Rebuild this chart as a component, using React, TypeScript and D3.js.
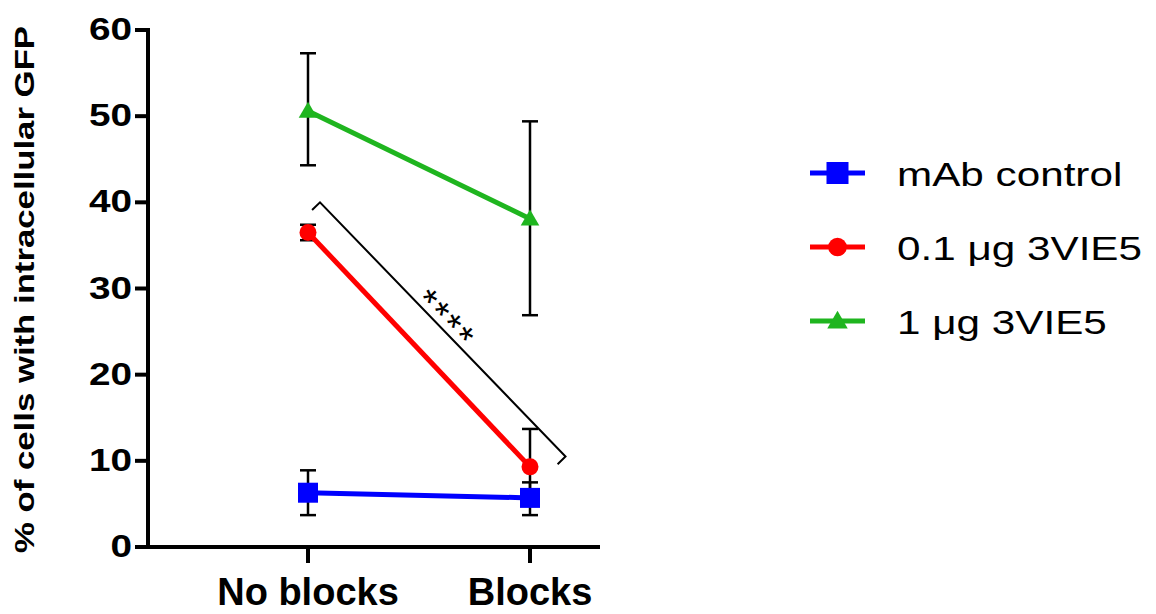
import React from "react";
import * as d3 from "d3";

const categories = ["No blocks", "Blocks"];
const seriesNames = ["mAb control", "0.1 \u03bcg 3VIE5", "1 \u03bcg 3VIE5"];
const seriesColors = ["#0000ff", "#ff0000", "#1fb51f"];
const seriesShapes = ["square", "circle", "triangle"];
const meanMab = [6.3, 5.7];
const lowMab = [3.7, 3.7];
const highMab = [8.9, 7.5];
const mean01 = [36.5, 9.3];
const low01 = [35.6, 4.9];
const high01 = [37.4, 13.7];
const mean1 = [50.6, 38.1];
const low1 = [44.3, 26.9];
const high1 = [57.3, 49.4];
const yTicks = [0, 10, 20, 30, 40, 50, 60];
const yTitle = "% of cells with intracellular GFP";
const sigLabel = "****";
const bracketStart = { x: 0.054, y: 40 };
const bracketEnd = { x: 1.16, y: 10.5 };

const W = 1156;
const H = 614;

export default function App() {
  const y = d3.scaleLinear().domain([0, 60]).range([547, 30]);
  const x = d3.scaleLinear().domain([0, 1]).range([308, 530]);
  const axisX = 148;
  const axisRight = 600;

  const series = [
    { mean: meanMab, low: lowMab, high: highMab },
    { mean: mean01, low: low01, high: high01 },
    { mean: mean1, low: low1, high: high1 },
  ];

  const line = d3
    .line<number>()
    .x((_, i) => x(i))
    .y((d) => y(d));

  const marker = (shape: string, cx: number, cy: number, color: string, s = 1) => {
    if (shape === "square") {
      const h = 10 * s;
      return <rect x={cx - h} y={cy - h} width={2 * h} height={2 * h} fill={color} />;
    }
    if (shape === "circle") {
      return <circle cx={cx} cy={cy} r={8.5 * s} fill={color} />;
    }
    const size = 150 * s * s;
    const p = d3.symbol().type(d3.symbolTriangle).size(size)();
    return <path d={p || ""} transform={`translate(${cx},${cy + 1.5 * s})`} fill={color} />;
  };

  const bx1 = x(bracketStart.x);
  const by1 = y(bracketStart.y);
  const bx2 = x(bracketEnd.x);
  const by2 = y(bracketEnd.y);
  const ang = Math.atan2(by2 - by1, bx2 - bx1);
  const angDeg = (ang * 180) / Math.PI;
  // perpendicular pointing toward the data (down-left)
  const px = -Math.sin(ang);
  const py = Math.cos(ang);
  const tick = 11;
  const t = 0.485;
  const midX = bx1 + (bx2 - bx1) * t - px * 17;
  const midY = by1 + (by2 - by1) * t - py * 17;

  return (
    <svg width={W} height={H} style={{ position: "absolute", left: 0, top: 0, background: "#fff" }}
      fontFamily="'Liberation Sans', Arial, sans-serif">
      {/* axes */}
      <line x1={axisX} x2={axisX} y1={y(60) - 2} y2={y(0) + 2} stroke="#000" strokeWidth={4} />
      <line x1={axisX - 2} x2={axisRight} y1={y(0)} y2={y(0)} stroke="#000" strokeWidth={4} />
      {yTicks.map((tv) => (
        <g key={tv}>
          <line x1={axisX - 13} x2={axisX} y1={y(tv)} y2={y(tv)} stroke="#000" strokeWidth={4} />
          <text
            transform={`translate(${axisX - 16},${y(tv) + 10}) scale(1.25,1)`}
            textAnchor="end"
            fontSize={31}
            fontWeight="bold"
          >
            {tv}
          </text>
        </g>
      ))}
      {categories.map((c, i) => (
        <g key={c}>
          <line x1={x(i)} x2={x(i)} y1={y(0)} y2={y(0) + 16} stroke="#000" strokeWidth={4} />
          <text x={x(i)} y={605} textAnchor="middle" fontSize={38} fontWeight="bold">
            {c}
          </text>
        </g>
      ))}
      <text
        transform={`translate(34,${(y(0) + y(60)) / 2 + 1}) rotate(-90) scale(1.22,1)`}
        textAnchor="middle"
        fontSize={28.5}
        fontWeight="bold"
      >
        {yTitle}
      </text>

      {/* error bars */}
      {series.map((s, si) =>
        s.mean.map((m, i) => (
          <g key={`e${si}-${i}`} stroke="#000" strokeWidth={2.5}>
            <line x1={x(i)} x2={x(i)} y1={y(s.low[i])} y2={y(s.high[i])} />
            <line x1={x(i) - 8} x2={x(i) + 8} y1={y(s.low[i])} y2={y(s.low[i])} />
            <line x1={x(i) - 8} x2={x(i) + 8} y1={y(s.high[i])} y2={y(s.high[i])} />
          </g>
        ))
      )}

      {/* lines and markers */}
      {series.map((s, si) => (
        <g key={`s${si}`}>
          <path d={line(s.mean) || ""} fill="none" stroke={seriesColors[si]} strokeWidth={5} />
          {s.mean.map((m, i) => (
            <g key={i}>{marker(seriesShapes[si], x(i), y(m), seriesColors[si])}</g>
          ))}
        </g>
      ))}

      {/* significance bracket */}
      <path
        d={`M${bx1 + px * tick},${by1 + py * tick}L${bx1},${by1}L${bx2},${by2}L${bx2 + px * tick},${by2 + py * tick}`}
        fill="none"
        stroke="#000"
        strokeWidth={2}
      />
      <text
        transform={`translate(${midX},${midY}) rotate(${angDeg})`}
        textAnchor="middle"
        dy="0.58em"
        fontSize={38}
        letterSpacing={2.5}
      >
        {sigLabel}
      </text>

      {/* legend */}
      {seriesNames.map((n, i) => {
        const ly = 173 + i * 74;
        return (
          <g key={n}>
            <line x1={810} x2={865} y1={ly} y2={ly} stroke={seriesColors[i]} strokeWidth={5} />
            {marker(seriesShapes[i], 837.5, ly, seriesColors[i], 1.1)}
            <text transform={`translate(897,${ly + 13}) scale(1.28,1)`} fontSize={33}>
              {n}
            </text>
          </g>
        );
      })}
    </svg>
  );
}
